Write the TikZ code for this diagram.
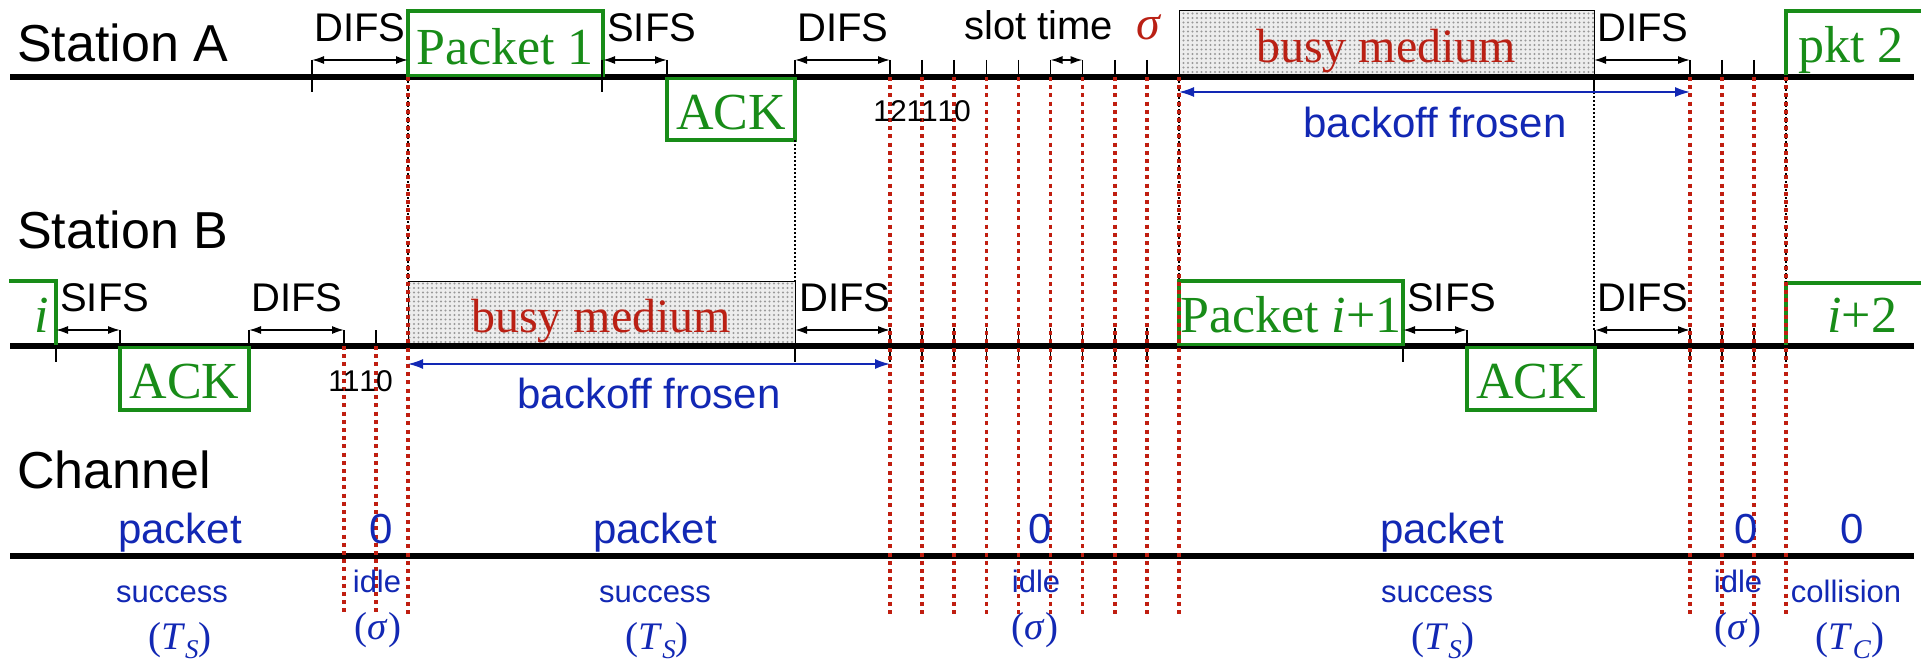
\documentclass[tikz,border=0pt]{standalone}
\usepackage{fontspec}
\setmainfont{Liberation Serif}
\setsansfont{Liberation Sans}
\usetikzlibrary{arrows.meta,patterns.meta}
\definecolor{pktgreen}{RGB}{24,140,24}
\definecolor{busyred}{RGB}{186,32,20}
\definecolor{slotred}{RGB}{192,30,16}
\definecolor{chblue}{RGB}{18,40,180}
\newcommand\pxfont[1]{\fontsize{#1}{#1}\selectfont}
\tikzset{
  timeline/.style={line width=5.5pt},
  tickmark/.style={line width=1.6pt},
  frame/.style={draw=pktgreen, line width=3.2pt},
  busybox/.style={draw=black, line width=1pt, preaction={fill=gray!14},
    pattern={Dots[distance=4.5pt, radius=1.2pt]}, pattern color=gray!80},
  ifs/.style={line width=1.6pt,
    arrows={Latex[length=12pt,width=8pt]-Latex[length=12pt,width=8pt]}},
  frozen/.style={draw=chblue, line width=1.6pt,
    arrows={Latex[length=15pt,width=10pt]-Latex[length=15pt,width=10pt]}},
  slotline/.style={draw=slotred, line width=3.6pt, dash pattern=on 4pt off 4.2pt},
  guide/.style={draw=black, line width=1.2pt, dash pattern=on 1.6pt off 2.4pt},
  rowlabel/.style={font=\sffamily\pxfont{52}, inner sep=0, anchor=base west},
  ifstext/.style={font=\sffamily\pxfont{40}, inner sep=0, anchor=base west},
  pkttext/.style={font=\pxfont{52}, text=pktgreen, inner sep=0, anchor=base},
  busytext/.style={font=\pxfont{48}, text=busyred, inner sep=0, anchor=base},
  counter/.style={font=\sffamily\pxfont{30}, inner sep=0, anchor=base},
  bluetext/.style={font=\sffamily\pxfont{42}, text=chblue, inner sep=0, anchor=base},
  smallblue/.style={font=\sffamily\pxfont{31}, text=chblue, inner sep=0, anchor=base},
  durtext/.style={font=\pxfont{39}, text=chblue, inner sep=0, anchor=base}
}
\newcommand\dursub[2]{(\textit{#1}\raisebox{-0.24em}{\pxfont{27}\textit{#2}})}
\begin{document}
\begin{tikzpicture}[x=1pt,y=-1pt]
\useasboundingbox (0,0) rectangle (1921,666);
\fill[white] (0,0) rectangle (1921,666);

% busy-medium intervals
\path[busybox] (1179,11) rectangle (1594,77);
\path[busybox] (408,281) rectangle (795,346);

% time axes
\draw[timeline] (10,77) -- (1914,77);
\draw[timeline] (10,346) -- (1914,346);
\draw[timeline] (10,556) -- (1914,556);

% frames (station A)
\draw[frame] (408,75.5) rectangle (603,11);
\draw[frame] (667,78.5) rectangle (795,140);
\draw[frame] (1786,75.5) -- (1786,11) -- (1935,11);
% frames (station B)
\draw[frame] (9,281) -- (56,281) -- (56,344.5);
\draw[frame] (120,347.5) rectangle (249,410);
\draw[frame] (1179,344.5) rectangle (1403,281);
\draw[frame] (1467,347.5) rectangle (1595,410);
\draw[frame] (1786,344.5) -- (1786,283) -- (1935,283);

% tick marks, station A
\foreach \x in {312,602} \draw[tickmark] (\x,60) -- (\x,92);
\foreach \x in {667,795,890,922.1,954.2,986.3,1018.4,1050.5,1082.6,1114.7,1146.8,1690,1722,1754}
  \draw[tickmark] (\x,60) -- (\x,77);
\draw[tickmark] (1594,77) -- (1594,92);
% tick marks, station B
\foreach \x in {120,249,344,376,1467,1595} \draw[tickmark] (\x,330) -- (\x,346);
\foreach \x in {56,795,1403,1786} \draw[tickmark] (\x,346) -- (\x,362);
\foreach \x in {890,922.1,954.2,986.3,1018.4,1050.5,1082.6,1114.7,1146.8,1690,1722,1754}
  \draw[tickmark] (\x,328) -- (\x,362);

% alignment guides between stations
\draw[guide] (795,140) -- (795,281);
\draw[guide] (1594,92) -- (1594,330);
\foreach \x in {408,1179} \draw[guide] (\x,77) -- (\x,281);
\draw[guide] (1786,77) -- (1786,283);

% slot boundaries
\foreach \x in {344,376} \draw[slotline] (\x,346) -- (\x,615);
\foreach \x in {408,890,922.1,954.2,986.3,1018.4,1050.5,1082.6,1114.7,1146.8,1179,1690,1722,1754,1786}
  \draw[slotline] (\x,77) -- (\x,615);

% interframe spaces, station A
\coordinate (a1) at (312,60);   \coordinate (a2) at (408,60);
\coordinate (a3) at (603,60);   \coordinate (a4) at (667,60);
\coordinate (a5) at (795,60);   \coordinate (a6) at (890,60);
\coordinate (a7) at (1050.5,60); \coordinate (a8) at (1082.6,60);
\coordinate (a9) at (1594,60);  \coordinate (a10) at (1690,60);
\draw[ifs] (a1) -- (a2);
\draw[ifs] (a3) -- (a4);
\draw[ifs] (a5) -- (a6);
\draw[ifs] (a7) -- (a8);
\draw[ifs] (a9) -- (a10);
% interframe spaces, station B
\coordinate (b1) at (56,330);   \coordinate (b2) at (120,330);
\coordinate (b3) at (249,330);  \coordinate (b4) at (344,330);
\coordinate (b5) at (795,330);  \coordinate (b6) at (890,330);
\coordinate (b7) at (1403,330); \coordinate (b8) at (1467,330);
\coordinate (b9) at (1595,330); \coordinate (b10) at (1690,330);
\draw[ifs] (b1) -- (b2);
\draw[ifs] (b3) -- (b4);
\draw[ifs] (b5) -- (b6);
\draw[ifs] (b7) -- (b8);
\draw[ifs] (b9) -- (b10);

% frozen backoff
\coordinate (fa1) at (1179,92); \coordinate (fa2) at (1690,92);
\coordinate (fb1) at (408,364); \coordinate (fb2) at (890,364);
\draw[frozen] (fa1) -- (fa2);
\draw[frozen] (fb1) -- (fb2);

% row labels
\node[rowlabel] (stA) at (17,62) {Station A};
\node[rowlabel] (stB) at (17,248) {Station B};
\node[rowlabel] (chan) at (17,488) {Channel};

% station A texts
\node[ifstext] (difsA1) at (314,42) {DIFS};
\node[ifstext] (sifsA1) at (607,42) {SIFS};
\node[ifstext] (difsA2) at (797,42) {DIFS};
\node[ifstext] (difsA3) at (1597,42) {DIFS};
\node[ifstext] (slotlab) at (964,40) {slot time};
\node[font=\pxfont{48}\itshape, text=busyred, inner sep=0, anchor=base west] (sigA) at (1136,40) {σ};
\node[pkttext] (pkt1) at (505,65) {Packet 1};
\node[pkttext] (ackA) at (731,129) {ACK};
\node[pkttext, anchor=base west] (pkt2) at (1798,63) {pkt 2};
\node[busytext] (busyA) at (1386,63) {busy medium};
\node[bluetext] (frzA) at (1435,137) {backoff frosen};
\node[counter] (cA12) at (890,122) {12};
\node[counter] (cA11) at (922.1,122) {11};
\node[counter] (cA10) at (954.2,122) {10};

% station B texts
\node[ifstext] (sifsB1) at (60,311) {SIFS};
\node[ifstext] (difsB1) at (251,311) {DIFS};
\node[ifstext] (difsB2) at (799,311) {DIFS};
\node[ifstext] (sifsB2) at (1407,311) {SIFS};
\node[ifstext] (difsB3) at (1597,311) {DIFS};
\node[pkttext] (pkti) at (42,332) {\textit{i}};
\node[pkttext] (ackB1) at (184.5,398) {ACK};
\node[pkttext] (pktB) at (1291,332) {Packet \textit{i}+1};
\node[pkttext] (ackB2) at (1531,398) {ACK};
\node[pkttext, anchor=base west] (pkti2) at (1827,332) {\textit{i}+2};
\node[busytext] (busyB) at (601,332) {busy medium};
\node[bluetext] (frzB) at (649,408) {backoff frosen};
\node[counter] (cB11) at (344,391) {11};
\node[counter] (cB10) at (376,391) {10};

% channel states
\node[bluetext] (ch1) at (180,543) {packet};
\node[bluetext] (ch2) at (381,543) {0};
\node[bluetext] (ch3) at (655,543) {packet};
\node[bluetext] (ch4) at (1040,543) {0};
\node[bluetext] (ch5) at (1442,543) {packet};
\node[bluetext] (ch6) at (1746,543) {0};
\node[bluetext] (ch7) at (1852,543) {0};
\node[smallblue] (ev1) at (172,602) {success};
\node[smallblue] (ev2) at (377,592) {idle};
\node[smallblue] (ev3) at (655,602) {success};
\node[smallblue] (ev4) at (1036,592) {idle};
\node[smallblue] (ev5) at (1437,602) {success};
\node[smallblue] (ev6) at (1738,592) {idle};
\node[smallblue] (ev7) at (1846,602) {collision};
\node[durtext] (du1) at (180,649) {\dursub{T}{S}};
\node[durtext] (du2) at (378,639) {(\textit{σ})};
\node[durtext] (du3) at (657,649) {\dursub{T}{S}};
\node[durtext] (du4) at (1035,639) {(\textit{σ})};
\node[durtext] (du5) at (1443,649) {\dursub{T}{S}};
\node[durtext] (du6) at (1738,639) {(\textit{σ})};
\node[durtext] (du7) at (1850,649) {\dursub{T}{C}};
\end{tikzpicture}
\end{document}
